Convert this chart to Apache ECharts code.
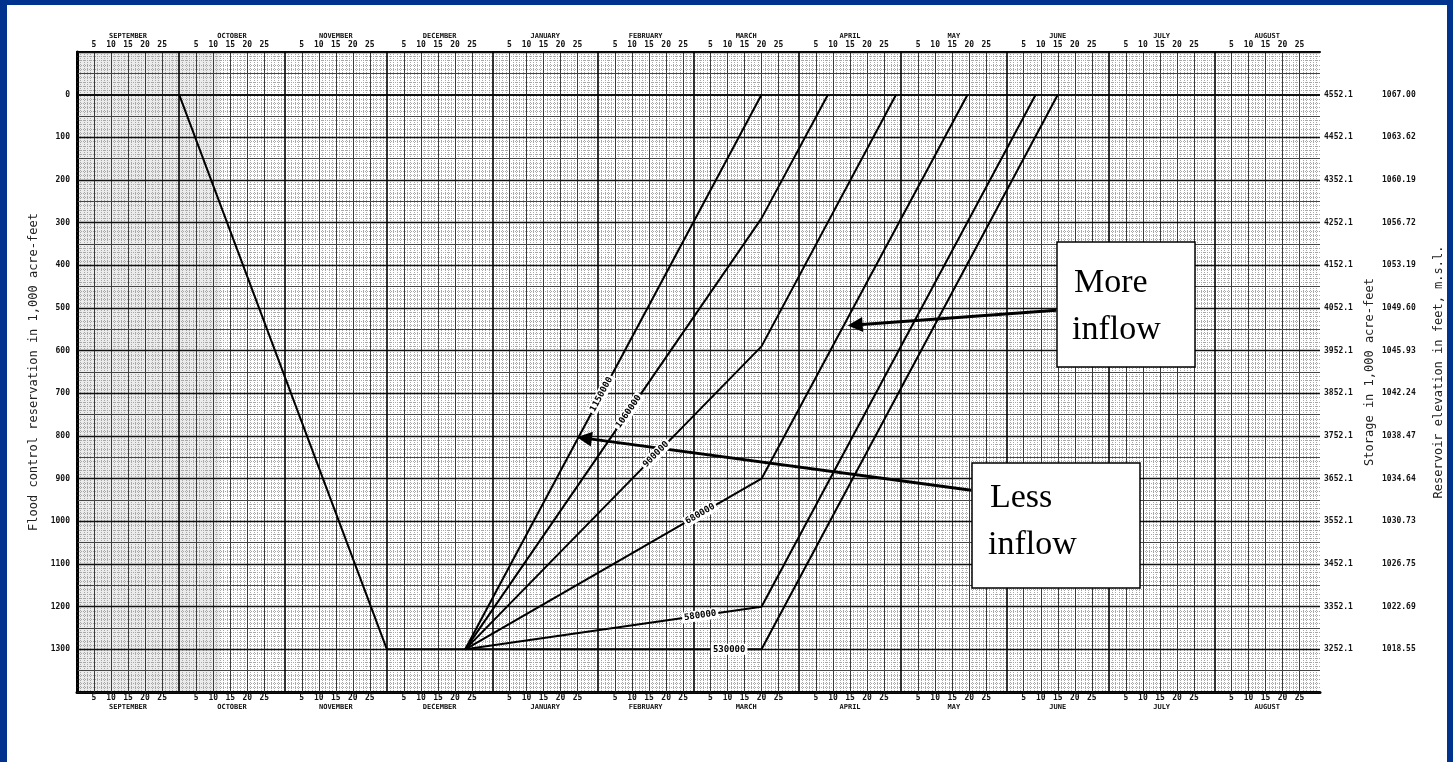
<!DOCTYPE html>
<html>
<head>
<meta charset="utf-8">
<title>Flood control diagram</title>
<script src="https://cdn.jsdelivr.net/npm/echarts@6/dist/echarts.min.js"></script>
<style>
  html, body { margin: 0; padding: 0; background: #00338d; }
  #paper { position: absolute; left: 7px; top: 5px; right: 6px; bottom: 0; background: #fff; }
  #chart { position: absolute; left: 0; top: 0; width: 1453px; height: 762px; }
</style>
</head>
<body>
<div id="paper"></div>
<div id="chart"></div>
<script>
// water year, Sept -> Aug
const monthNames = ['SEPTEMBER', 'OCTOBER', 'NOVEMBER', 'DECEMBER', 'JANUARY', 'FEBRUARY',
  'MARCH', 'APRIL', 'MAY', 'JUNE', 'JULY', 'AUGUST'];
const monthLengths = [30, 31, 30, 31, 31, 28, 31, 30, 31, 30, 31, 31];
const dayMarks = [5, 10, 15, 20, 25];

const reservationTicks = [0, 100, 200, 300, 400, 500, 600, 700, 800, 900, 1000, 1100, 1200, 1300];
const storageLabels = ['4552.1', '4452.1', '4352.1', '4252.1', '4152.1', '4052.1', '3952.1',
  '3852.1', '3752.1', '3652.1', '3552.1', '3452.1', '3352.1', '3252.1'];
const elevationLabels = ['1067.00', '1063.62', '1060.19', '1056.72', '1053.19', '1049.60', '1045.93',
  '1042.24', '1038.47', '1034.64', '1030.73', '1026.75', '1022.69', '1018.55'];

// x = days counted from the start of September
const evacuationDays = [30, 91, 114];
const evacuationLevels = [0, 1300, 1300];

const inflowNames = ['1150000', '1060000', '900000', '680000', '580000', '530000'];
const inflowBreakDay = 201;                                // March 20
const inflowBreakLevels = [0, 290, 590, 900, 1200, 1300];
const inflowFullDays = [201, 220.5, 240.5, 261.5, 281.5, 288];

// where the volume tags sit along each line (day)
const tagDays = [154, 162, 170, 183, 183, 191.5];

const mono = 'DejaVu Sans Mono';
const tickFont = { fontFamily: mono, fontSize: 8, fontWeight: 'bold', color: '#111' };

let monthStarts = [];
let acc = 0;
monthLengths.forEach(n => { monthStarts.push(acc); acc += n; });
const yearDays = acc;

let dayTickPos = [];
let dayTickText = {};
monthStarts.forEach(s => dayMarks.forEach(d => {
  dayTickPos.push(s + d);
  dayTickText[s + d] = String(d);
}));
const monthMid = monthStarts.map((s, i) => s + monthLengths[i] / 2);
let monthText = {};
monthMid.forEach((m, i) => { monthText[m] = monthNames[i]; });

function dayAxis(pos, margin, width) {
  return {
    type: 'value', position: pos, min: 0, max: yearDays,
    axisLine: { show: true, onZero: false, lineStyle: { color: '#000', width: width } },
    axisTick: { show: false },
    splitLine: { show: false },
    axisLabel: Object.assign({ customValues: dayTickPos, margin: margin,
      formatter: v => dayTickText[v] || '' }, tickFont)
  };
}
function monthAxis(pos, offset) {
  return {
    type: 'value', position: pos, offset: offset, min: 0, max: yearDays,
    axisLine: { show: false }, axisTick: { show: false }, splitLine: { show: false },
    axisLabel: Object.assign({ customValues: monthMid, margin: 0,
      formatter: v => monthText[v] || '' }, tickFont, { fontSize: 7 })
  };
}

// paper grid (drawn light -> dark so the heavy rules stay on top)
let gridLines = [];
const dotted = { color: '#a8a8a8', width: 1, type: 'dotted' };
monthStarts.forEach((s, i) => {
  for (let d = 1; d < monthLengths[i]; d++) {
    if (dayMarks.indexOf(d) < 0) gridLines.push({ xAxis: s + d, lineStyle: dotted });
  }
});
for (let v = -90; v < 1400; v += 10) {
  if (v % 50 !== 0) gridLines.push({ yAxis: v, lineStyle: dotted });
}
dayTickPos.forEach(p => gridLines.push({ xAxis: p, lineStyle: { color: '#3a3a3a', width: 1, type: 'solid' } }));
for (let v = -50; v < 1400; v += 100) {
  gridLines.push({ yAxis: v, lineStyle: { color: '#444', width: 1, type: 'solid' } });
}
for (let v = -100; v <= 1400; v += 100) {
  gridLines.push({ yAxis: v, lineStyle: { color: '#111', width: v === 0 ? 2 : 1.3, type: 'solid' } });
}
monthStarts.forEach(s => gridLines.push({ xAxis: s, lineStyle: { color: '#000', width: 1.6, type: 'solid' } }));

const lineStyle = { color: '#000', width: 2 };

function levelOnRise(i, t) {
  const b = inflowBreakLevels[i];
  const h = evacuationDays[2];
  return 1300 - (t - h) / (inflowBreakDay - h) * (1300 - b);
}

let series = [{
  name: 'grid', type: 'line', data: [], silent: true, z: 1,
  markLine: { silent: true, symbol: 'none', animation: false, label: { show: false },
    emphasis: { disabled: true }, data: gridLines },
  markArea: { silent: true, itemStyle: { color: 'rgba(0,0,0,0.08)' },
    data: [[{ xAxis: 0 }, { xAxis: 42 }]] }
}, {
  name: 'evacuation', type: 'line', symbol: 'none', z: 5, lineStyle: lineStyle,
  data: evacuationDays.map((d, i) => [d, evacuationLevels[i]])
}];

inflowNames.forEach((name, i) => {
  const hub = [evacuationDays[2], evacuationLevels[2]];
  const t = tagDays[i];
  series.push({
    name: name, type: 'line', symbol: 'none', z: 5, lineStyle: lineStyle,
    data: [hub, [inflowBreakDay, inflowBreakLevels[i]], [inflowFullDays[i], 0]],
    markLine: {
      silent: true, symbol: 'none', animation: false, z: 6,
      lineStyle: { color: 'rgba(0,0,0,0)', width: 1, type: 'solid' },
      label: { show: true, position: 'middle', formatter: name, fontFamily: mono, fontSize: 9,
        fontWeight: 'bold', color: '#000', backgroundColor: '#fff', padding: [1, 2],
        distance: 0, align: 'center', verticalAlign: 'middle' },
      data: [[{ coord: [t - 1, levelOnRise(i, t - 1)] }, { coord: [t + 1, levelOnRise(i, t + 1)] }]]
    }
  });
});

series.push({
  name: 'notes', type: 'line', data: [], z: 10,
  markLine: {
    silent: true, animation: false, symbol: ['none', 'triangle'], symbolSize: 15,
    lineStyle: { color: '#000', width: 3, type: 'solid' }, label: { show: false },
    data: [
      [{ coord: [287.6, 505] }, { coord: [228.5, 540] }],
      [{ coord: [262.6, 927] }, { coord: [149, 805] }]
    ]
  }
});

const yBase = { type: 'value', inverse: true, min: -100, max: 1400, interval: 100,
  axisTick: { show: false }, splitLine: { show: false } };
const titleFont = { fontFamily: mono, fontSize: 12, color: '#222' };

const chart = echarts.init(document.getElementById('chart'));
chart.setOption({
  animation: false,
  grid: { left: 77, right: 132, top: 52, bottom: 70 },
  xAxis: [dayAxis('bottom', 2, 3), monthAxis('bottom', 12), dayAxis('top', 3, 2), monthAxis('top', 12)],
  yAxis: [
    Object.assign({}, yBase, {
      position: 'left',
      axisLine: { show: true, lineStyle: { color: '#000', width: 2 } },
      axisLabel: Object.assign({ margin: 7,
        formatter: v => reservationTicks.indexOf(v) >= 0 ? String(v) : '' }, tickFont),
      name: 'Flood control reservation in 1,000 acre-feet', nameLocation: 'middle', nameRotate: 90,
      nameGap: 30, nameTextStyle: titleFont
    }),
    Object.assign({}, yBase, {
      position: 'right',
      axisLine: { show: true, lineStyle: { color: '#000', width: 3 } },
      axisLabel: Object.assign({ margin: 4,
        formatter: v => storageLabels[reservationTicks.indexOf(v)] || '' }, tickFont),
      name: 'Storage in 1,000 acre-feet', nameLocation: 'middle', nameRotate: 90,
      nameGap: 44, nameTextStyle: titleFont
    }),
    Object.assign({}, yBase, {
      position: 'right', offset: 58,
      axisLine: { show: false },
      axisLabel: Object.assign({ margin: 4,
        formatter: v => elevationLabels[reservationTicks.indexOf(v)] || '' }, tickFont),
      name: 'Reservoir elevation in feet, m.s.l.', nameLocation: 'middle', nameRotate: 90,
      nameGap: 55, nameTextStyle: titleFont
    })
  ],
  series: series,
  graphic: [
    { type: 'rect', z: 20, shape: { x: 1057, y: 242, width: 138, height: 125 },
      style: { fill: '#fff', stroke: '#000', lineWidth: 1.5 } },
    { type: 'text', z: 21, x: 1074, y: 283,
      style: { text: 'More', font: '34px "Liberation Serif"', fill: '#000', verticalAlign: 'middle' } },
    { type: 'text', z: 21, x: 1072, y: 330,
      style: { text: 'inflow', font: '34px "Liberation Serif"', fill: '#000', verticalAlign: 'middle' } },
    { type: 'rect', z: 20, shape: { x: 972, y: 463, width: 168, height: 125 },
      style: { fill: '#fff', stroke: '#000', lineWidth: 1.5 } },
    { type: 'text', z: 21, x: 990, y: 498,
      style: { text: 'Less', font: '34px "Liberation Serif"', fill: '#000', verticalAlign: 'middle' } },
    { type: 'text', z: 21, x: 988, y: 545,
      style: { text: 'inflow', font: '34px "Liberation Serif"', fill: '#000', verticalAlign: 'middle' } }
  ]
});
</script>
</body>
</html>
